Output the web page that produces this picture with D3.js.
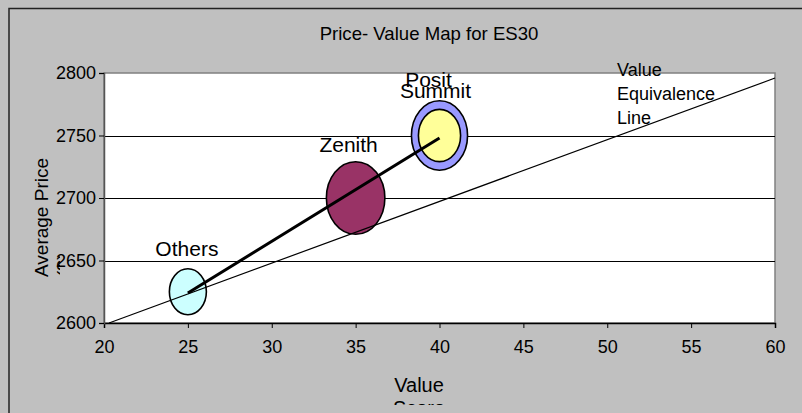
<!DOCTYPE html>
<html>
<head>
<meta charset="utf-8">
<script src="https://cdn.jsdelivr.net/npm/d3@7"></script>
<style>
  html, body { margin: 0; padding: 0; background: #c0c0c0; }
  svg { display: block; font-family: "Liberation Sans", Arial, sans-serif; }
</style>
</head>
<body>
<div id="chart"></div>
<script>
// 数据
const brands = ["Others", "Zenith", "Posit", "Summit"];
const valueScores = [25, 35, 40, 40];
const avgPrices = [2625, 2700, 2750, 2750];
const bubbleSizes = [10, 25, 23, 13];

// 价格-价值连线 (Others -> Posit)
const trendX = [25, 40];
const trendY = [2624, 2748];

// 价值等价线
const equivX = [20.3, 60];
const equivY = [2600, 2796];

const xTicks = [20, 25, 30, 35, 40, 45, 50, 55, 60];
const yTicks = [2600, 2650, 2700, 2750, 2800];

// 样式
const bubbleFill = { Others: "#ccffff", Zenith: "#993366", Posit: "#9999ff", Summit: "#ffff99" };
const labelOffset = {
    Others: { dx: -1, dy: -36 },
    Zenith: { dx: -7, dy: -46 },
    Posit: { dx: -11, dy: -49 },
    Summit: { dx: -4, dy: -38 }
};

const width = 802, height = 413;
const plot = { left: 104, right: 775, top: 73, bottom: 323 };

const svg = d3.select("#chart").append("svg")
    .attr("width", width)
    .attr("height", height);

// 背景和外框
svg.append("rect")
    .attr("x", 0).attr("y", 0)
    .attr("width", width).attr("height", height)
    .attr("fill", "#c0c0c0");
svg.append("rect")
    .attr("x", 9).attr("y", 8.5)
    .attr("width", width + 20).attr("height", height + 20)
    .attr("fill", "none")
    .attr("stroke", "#222")
    .attr("stroke-width", 1.5);

const x = d3.scaleLinear().domain([20, 60]).range([plot.left, plot.right]);
const y = d3.scaleLinear().domain([2600, 2800]).range([plot.bottom, plot.top]);
const rx = d3.scaleSqrt().domain([0, 25]).range([0, 29.25]);
const aspect = 1.24;

// 绘图区
svg.append("rect")
    .attr("x", plot.left).attr("y", plot.top)
    .attr("width", plot.right - plot.left)
    .attr("height", plot.bottom - plot.top)
    .attr("fill", "#fff")
    .attr("stroke", "#808080")
    .attr("stroke-width", 1.5);

// 网格线
svg.append("g")
    .selectAll("line")
    .data(yTicks.filter(d => d > 2600 && d < 2800))
    .join("line")
    .attr("x1", plot.left).attr("x2", plot.right)
    .attr("y1", d => Math.round(y(d)) + 0.5)
    .attr("y2", d => Math.round(y(d)) + 0.5)
    .attr("stroke", "#000")
    .attr("stroke-width", 1);

// 气泡
const bubbles = brands.map((b, i) => ({
    name: b, vx: valueScores[i], vy: avgPrices[i], size: bubbleSizes[i]
}));

svg.append("g")
    .selectAll("ellipse")
    .data(bubbles)
    .join("ellipse")
    .attr("cx", d => x(d.vx))
    .attr("cy", d => y(d.vy))
    .attr("rx", d => rx(d.size))
    .attr("ry", d => rx(d.size) * aspect)
    .attr("fill", d => bubbleFill[d.name])
    .attr("stroke", "#000")
    .attr("stroke-width", 1.6);

// 线条
const lineGen = d3.line().x(d => x(d[0])).y(d => y(d[1]));
svg.append("path")
    .attr("d", lineGen(equivX.map((v, i) => [v, equivY[i]])))
    .attr("fill", "none")
    .attr("stroke", "#000")
    .attr("stroke-width", 1.2);
svg.append("path")
    .attr("d", lineGen(trendX.map((v, i) => [v, trendY[i]])))
    .attr("fill", "none")
    .attr("stroke", "#000")
    .attr("stroke-width", 3);

// 坐标轴
const xAxis = svg.append("g")
    .attr("transform", `translate(0,${plot.bottom})`)
    .call(d3.axisBottom(x).tickValues(xTicks).tickSize(5).tickPadding(12));
xAxis.select(".domain").attr("stroke", "#000").attr("stroke-width", 1.5);
xAxis.selectAll(".tick line").attr("stroke", "#000");
xAxis.selectAll("text")
    .attr("font-size", 18)
    .attr("fill", "#000")
    .attr("font-family", "Liberation Sans, Arial, sans-serif");

const yAxis = svg.append("g")
    .attr("transform", `translate(${plot.left},0)`)
    .call(d3.axisLeft(y).tickValues(yTicks).tickFormat(d3.format("d")).tickSize(5).tickPadding(3));
yAxis.select(".domain").attr("stroke", "#555").attr("stroke-width", 1.5);
yAxis.selectAll(".tick line").attr("stroke", "#000");
yAxis.selectAll("text")
    .attr("font-size", 18)
    .attr("fill", "#000")
    .attr("font-family", "Liberation Sans, Arial, sans-serif");

// 气泡标签
svg.append("g")
    .selectAll("text")
    .data(bubbles)
    .join("text")
    .attr("x", d => x(d.vx) + labelOffset[d.name].dx)
    .attr("y", d => y(d.vy) + labelOffset[d.name].dy)
    .attr("text-anchor", "middle")
    .attr("font-size", 21)
    .attr("fill", "#000")
    .text(d => d.name);

// 价值等价线标签
const eqLabel = svg.append("text")
    .attr("x", 617).attr("y", 76)
    .attr("font-size", 18)
    .attr("fill", "#000");
["Value", "Equivalence", "Line"].forEach((t, i) => {
    eqLabel.append("tspan").attr("x", 617).attr("dy", i === 0 ? 0 : 23.8).text(t);
});

// 标题
svg.append("text")
    .attr("x", 429).attr("y", 40)
    .attr("text-anchor", "middle")
    .attr("font-size", 18.6)
    .attr("fill", "#000")
    .text("Price- Value Map for ES30");

// 轴标题 (被裁剪)
const defs = svg.append("defs");
defs.append("clipPath").attr("id", "clip-y")
    .append("rect").attr("x", 0).attr("y", 0).attr("width", 60).attr("height", height);
defs.append("clipPath").attr("id", "clip-x")
    .append("rect").attr("x", 0).attr("y", 0).attr("width", width).attr("height", 405);

const yTitle = svg.append("g")
    .attr("clip-path", "url(#clip-y)")
    .append("text")
    .attr("transform", "translate(48,277) rotate(-90)")
    .attr("font-size", 19)
    .attr("fill", "#000");
yTitle.append("tspan").attr("x", 0).attr("y", 0).text("Average Price");
yTitle.append("tspan").attr("x", 0).attr("y", 22).text("($)");

const xTitle = svg.append("g")
    .attr("clip-path", "url(#clip-x)")
    .append("text")
    .attr("x", 419).attr("y", 392)
    .attr("text-anchor", "middle")
    .attr("font-size", 20)
    .attr("fill", "#000");
xTitle.append("tspan").attr("x", 419).attr("dy", 0).text("Value");
xTitle.append("tspan").attr("x", 419).attr("dy", 23).text("Score");
</script>
</body>
</html>
